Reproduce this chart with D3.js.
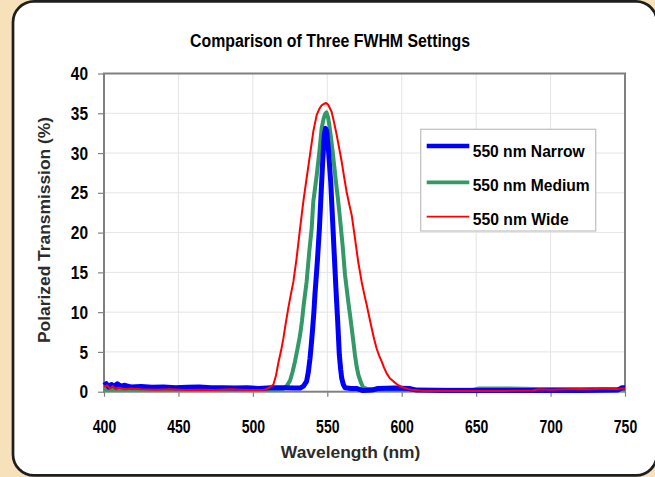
<!DOCTYPE html>
<html>
<head>
<meta charset="utf-8">
<script src="https://cdn.jsdelivr.net/npm/d3@7"></script>
<style>
  html, body { margin: 0; padding: 0; background: #f6e1bb; }
  svg { display: block; }
  text { font-family: "Liberation Sans", Arial, sans-serif; font-weight: bold; }
</style>
</head>
<body>
<div id="chart"></div>
<script>
// Axis ticks
const xTicks = [400, 450, 500, 550, 600, 650, 700, 750];
const yTicks = [0, 5, 10, 15, 20, 25, 30, 35, 40];

// Series names and colours
const seriesNames = ["550 nm Narrow", "550 nm Medium", "550 nm Wide"];
const seriesColors = ["#0000ff", "#339966", "#ff0000"];

// [wavelength (nm), polarized transmission (%)]
const narrow = [
  [400, 0.8], [401.5, 1.0], [403, 0.6], [405, 0.9], [407, 0.7], [409, 1.0], [411, 0.7],
  [414, 0.8], [418, 0.6], [425, 0.65], [432, 0.55], [440, 0.6], [448, 0.5], [456, 0.55],
  [464, 0.6], [472, 0.5], [480, 0.5], [488, 0.45], [496, 0.5], [504, 0.4], [512, 0.5],
  [520, 0.5], [528, 0.45], [531.7, 0.45], [534, 0.7], [536.1, 1.3], [537.3, 2.5],
  [538.4, 4.2], [539.3, 6.0], [540.2, 8.0], [541, 10.0], [541.7, 12.2], [543.3, 16.3],
  [544.7, 20.5], [545.8, 24.7], [546.9, 28.9], [548, 32.3], [548.8, 33.1], [549.6, 32.8],
  [550.2, 31.5], [550.7, 30.6], [552.3, 26.4], [553.6, 21.4], [554.7, 17.2], [555.8, 13.0],
  [557, 8.8], [558.1, 4.6], [559, 2.8], [559.7, 1.7], [560.8, 0.9], [561.9, 0.5],
  [566, 0.4], [570, 0.4], [574, 0.15], [580, 0.2], [584, 0.4], [595, 0.45], [605, 0.4],
  [610, 0.2], [630, 0.15], [660, 0.15], [690, 0.15], [720, 0.15], [745, 0.2], [748, 0.5],
  [750, 0.5]
];

const medium = [
  [400, 0.3], [410, 0.35], [420, 0.3], [440, 0.25], [460, 0.3], [480, 0.25], [500, 0.25],
  [510, 0.3], [518, 0.3], [520.5, 0.35], [523, 0.8], [525, 1.4], [526.7, 2.5], [528.3, 3.8],
  [530, 5.4], [531.7, 7.1], [533, 8.9], [533.9, 10.5], [535, 12.2], [536.1, 13.8],
  [537.9, 17.6], [539.5, 20.5], [540.6, 23.9], [541.8, 25.6], [542.9, 27.2], [544.7, 30.2],
  [546.2, 33.1], [547.5, 34.3], [548.5, 34.9], [549.5, 35.1], [550.5, 34.5], [551.4, 33.5],
  [552.5, 31.9], [553.6, 30.2], [554.7, 28.3], [555.8, 26.4], [557, 24.5], [558.1, 22.6],
  [559.2, 20.5], [560.3, 18.4], [561.9, 14.7], [563, 13.0], [564.1, 11.3], [565.3, 9.6],
  [566.4, 8.0], [567.5, 6.3], [568.6, 4.6], [569.7, 3.2], [570.9, 2.1], [572.5, 1.2],
  [574.2, 0.5], [578, 0.3], [590, 0.25], [610, 0.2], [630, 0.25], [648, 0.25], [652, 0.4],
  [670, 0.4], [690, 0.35], [710, 0.35], [730, 0.35], [750, 0.35]
];

const wide = [
  [400, 0.6], [402, 0.8], [404, 0.4], [406, 0.7], [408, 0.3], [410, 0.5], [414, 0.3],
  [418, 0.4], [425, 0.3], [435, 0.25], [445, 0.3], [455, 0.2], [465, 0.25], [475, 0.2],
  [485, 0.3], [495, 0.2], [505, 0.2], [508, 0.25], [511, 0.5], [513.8, 0.9], [515.5, 2.0],
  [517.1, 3.6], [519, 5.2], [520.5, 6.7], [522, 8.5], [523.8, 10.5], [525.5, 12.2],
  [527.2, 13.8], [529.4, 16.8], [531.7, 20.5], [533.9, 23.9], [536.1, 26.8], [538.4, 29.8],
  [540.6, 32.7], [542.9, 34.8], [544.5, 35.5], [546.2, 36.0], [548, 36.2], [549.2, 36.3],
  [550.5, 36.1], [552.9, 35.2], [554.5, 33.9], [556.3, 32.3], [558, 30.6], [559.7, 28.9],
  [561.3, 27.0], [563, 25.1], [564.7, 23.6], [566.4, 22.2], [568.6, 19.3], [570.8, 16.3],
  [573.1, 13.8], [574.8, 12.3], [576.5, 10.9], [578.2, 9.4], [579.8, 8.0], [581.5, 6.6],
  [583.2, 5.4], [584.9, 4.5], [586.5, 3.8], [588.2, 3.0], [589.9, 2.3], [592, 1.7],
  [594.4, 1.3], [597, 0.9], [600, 0.6], [604, 0.35], [607.8, 0.2], [615, 0.1], [630, 0.1],
  [650, 0.1], [670, 0.1], [688, 0.15], [692, 0.3], [700, 0.25], [710, 0.3], [720, 0.35],
  [728, 0.3], [735, 0.4], [742, 0.35], [750, 0.4]
];

// Chart geometry
const W = 655, H = 477;
const plot = { left: 104, top: 73.5, right: 625, bottom: 391.7 };

const svg = d3.select("#chart").append("svg")
  .attr("width", W)
  .attr("height", H);

// Tan page and white rounded panel
svg.append("rect").attr("width", W).attr("height", H).attr("fill", "#f6e1bb");
svg.append("rect")
  .attr("x", 13).attr("y", 1.4)
  .attr("width", 644).attr("height", 474)
  .attr("rx", 21).attr("ry", 21)
  .attr("fill", "#ffffff")
  .attr("stroke", "#1e1e1e")
  .attr("stroke-width", 2.7);

const x = d3.scaleLinear().domain([400, 750]).range([plot.left, plot.right]);
const y = d3.scaleLinear().domain([0, 40]).range([plot.bottom, plot.top]);

// Gridlines
const grid = svg.append("g").attr("stroke", "#e4e4e4").attr("stroke-width", 1);
grid.selectAll(".gy").data(yTicks).enter().append("line")
  .attr("x1", plot.left).attr("x2", plot.right)
  .attr("y1", d => y(d)).attr("y2", d => y(d));
grid.selectAll(".gx").data(xTicks).enter().append("line")
  .attr("y1", plot.top).attr("y2", plot.bottom)
  .attr("x1", d => x(d)).attr("x2", d => x(d));

// Axes
const yAxis = svg.append("g")
  .attr("transform", `translate(${plot.left},0)`)
  .call(d3.axisLeft(y).tickValues(yTicks).tickSize(6).tickPadding(10).tickSizeOuter(0));
const xAxis = svg.append("g")
  .attr("transform", `translate(0,${plot.bottom})`)
  .call(d3.axisBottom(x).tickValues(xTicks).tickSize(5).tickPadding(23).tickSizeOuter(0));

[yAxis, xAxis].forEach(ax => {
  ax.select(".domain").remove();
  ax.selectAll(".tick line").attr("stroke", "#808080").attr("stroke-width", 1.2);
  ax.selectAll(".tick text")
    .attr("fill", "#000")
    .style("font-size", "19px")
    .attr("lengthAdjust", "spacingAndGlyphs");
});
yAxis.selectAll(".tick text").attr("textLength", d => String(d).length * 8.6);
xAxis.selectAll(".tick text").attr("textLength", d => String(d).length * 7.8);

// Plot frame
svg.append("rect")
  .attr("x", plot.left).attr("y", plot.top)
  .attr("width", plot.right - plot.left).attr("height", plot.bottom - plot.top)
  .attr("fill", "none")
  .attr("stroke", "#808080")
  .attr("stroke-width", 2);

// Curves
const line = d3.line().x(d => x(d[0])).y(d => y(d[1]));
const series = [
  { data: medium, color: seriesColors[1], width: 4 },
  { data: narrow, color: seriesColors[0], width: 5 },
  { data: wide, color: seriesColors[2], width: 2 }
];
series.forEach(s => {
  svg.append("path")
    .datum(s.data)
    .attr("d", line)
    .attr("fill", "none")
    .attr("stroke", s.color)
    .attr("stroke-width", s.width)
    .attr("stroke-linejoin", "round");
});

// Title
svg.append("text")
  .attr("x", 330).attr("y", 47)
  .attr("text-anchor", "middle")
  .attr("textLength", 280)
  .attr("lengthAdjust", "spacingAndGlyphs")
  .style("font-size", "18px")
  .attr("fill", "#000")
  .text("Comparison of Three FWHM Settings");

// Axis titles
svg.append("text")
  .attr("x", 350.6).attr("y", 457.5)
  .attr("text-anchor", "middle")
  .style("font-size", "17.4px")
  .attr("fill", "#2b2b2b")
  .text("Wavelength (nm)");
svg.append("text")
  .attr("transform", "translate(49.5,230) rotate(-90)")
  .attr("text-anchor", "middle")
  .style("font-size", "17.4px")
  .attr("fill", "#2b2b2b")
  .text("Polarized Transmission (%)");

// Legend
const legend = svg.append("g");
legend.append("rect")
  .attr("x", 420.7).attr("y", 129.3)
  .attr("width", 175).attr("height", 101.7)
  .attr("fill", "#ffffff")
  .attr("stroke", "#c4c4c4")
  .attr("stroke-width", 1.3);

const legendRows = [
  { name: seriesNames[0], color: seriesColors[0], width: 4.5, lineY: 146, textY: 156.5, len: 112 },
  { name: seriesNames[1], color: seriesColors[1], width: 3.7, lineY: 182.3, textY: 190.7, len: 117 },
  { name: seriesNames[2], color: seriesColors[2], width: 1.8, lineY: 216.7, textY: 224.5, len: 96 }
];
legendRows.forEach(r => {
  legend.append("line")
    .attr("x1", 426.7).attr("x2", 469.3)
    .attr("y1", r.lineY).attr("y2", r.lineY)
    .attr("stroke", r.color)
    .attr("stroke-width", r.width);
  legend.append("text")
    .attr("x", 472.7).attr("y", r.textY)
    .attr("textLength", r.len)
    .attr("lengthAdjust", "spacingAndGlyphs")
    .style("font-size", "17px")
    .attr("fill", "#000")
    .text(r.name);
});
</script>
</body>
</html>
